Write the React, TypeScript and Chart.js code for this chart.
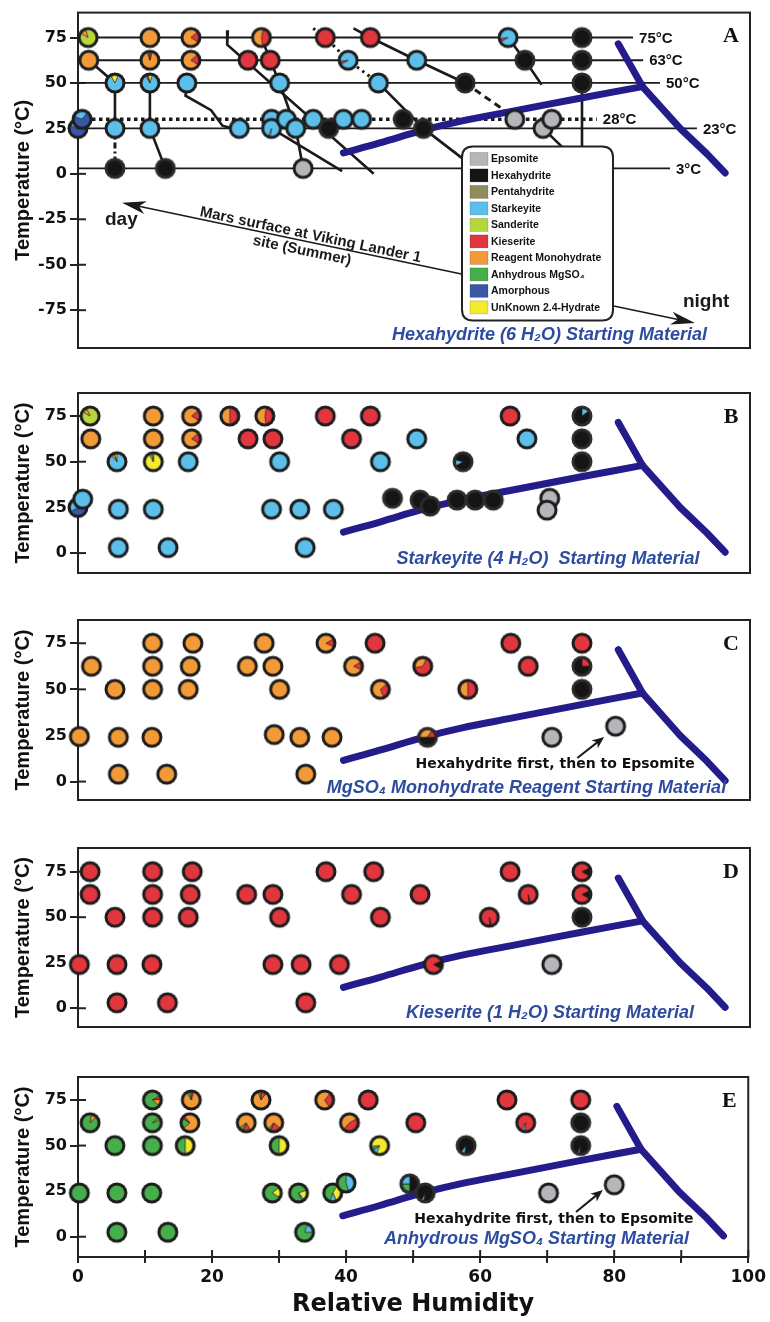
import React, { useEffect, useRef } from "react";
import { Chart, registerables } from "chart.js";
Chart.register(...registerables);

Chart.defaults.font.family = "'DejaVu Sans', sans-serif";
Chart.defaults.color = "#111";

// ---------------- phases ----------------
const phaseKeys = ["E", "H", "P", "S", "Sa", "K", "R", "A", "Am", "U"];
const phaseNames = ["Epsomite", "Hexahydrite", "Pentahydrite", "Starkeyite", "Sanderite", "Kieserite", "Reagent Monohydrate", "Anhydrous MgSO₄", "Amorphous", "UnKnown 2.4-Hydrate"];
const phaseColors = ["#b4b6ba", "#151515", "#8f8d5b", "#5cbfe9", "#b7d53d", "#e2363f", "#f39a38", "#47ae4c", "#3a57a6", "#f3eb2b"];

// ---------------- panel A : Hexahydrite ----------------
const rhA = [1.5, 1.6, 5.5, 0.0, 0.6, 5.5, 5.5, 10.7, 10.7, 10.7, 10.7, 13.0, 16.8, 16.8, 16.2, 24.0, 27.3, 25.3, 28.6, 30.0, 28.8, 28.8, 31.0, 32.4, 33.5, 35.0, 37.3, 39.5, 42.2, 36.8, 43.5, 40.2, 44.7, 50.4, 57.6, 48.4, 51.4, 65.0, 69.2, 70.5, 64.0, 66.5, 75, 75, 75];
const tA = [75, 62.5, 50, 25, 30, 25, 3, 75, 62.5, 50, 25, 3, 75, 62.5, 50, 25, 75, 62.5, 62.5, 50, 30, 25, 30, 25, 3, 30, 25, 30, 30, 75, 75, 62.5, 50, 62.5, 50, 30, 25, 30, 25, 30, 75, 62.5, 75, 62.5, 50];
const phA = ["Sa,R:0.12@-150", "R", "S,U:0.15@-120", "Am,S:0.3@200", "Am,S:0.3@200", "S", "H", "R", "R,A:0.05,K:0.05@-110", "S,K:0.05,U:0.08@-120", "S", "H", "R,K:0.2@-40", "R,K:0.2@-40", "S", "S", "R,K:0.45@-80", "K", "K", "S", "S", "S,E:0.03@100", "S", "S", "E", "S", "H", "S", "S", "K", "K", "S,K:0.06@150", "S", "S", "H", "H", "H", "E", "E", "E", "S,K:0.06@150", "H", "H", "H", "H"];

// transformation paths in panel A
const pathA1 = [[1.6, 62.5], [5.5, 50], [5.5, 25]];
const pathA1b = [[5.5, 25], [5.5, 3]];
const pathA2 = [[10.7, 50], [10.7, 25], [13, 3]];
const pathA3 = [[16.2, 50], [16, 43], [19.8, 35], [21.5, 26.5], [23, 25]];
const pathA4 = [[22.3, 79], [22.2, 71], [44, 0]];
const pathA5 = [[27.3, 75], [28.6, 62.5], [30, 50], [32.4, 25], [33.5, 3]];
const pathA6 = [[28.8, 25], [39.3, 1.5]];
const pathA7 = [[35, 80], [36.8, 75], [40.2, 62.5], [44.7, 50]];
const pathA8 = [[41, 80], [43.5, 75], [50.4, 62.5], [57.6, 50]];
const pathA8b = [[57.6, 50], [65, 31]];
const pathA9 = [[44.7, 50], [51.4, 25], [57.2, 8.5]];
const pathA10 = [[63.5, 80], [64, 75], [66.5, 62.5], [69, 49]];
const pathA11 = [[69.2, 25], [72, 15]];
const pathA12 = [[75, 50], [75, 15]];

// isotherms in panel A
const isoT = [75, 62.5, 50, 30, 25, 3];
const isoEnd = [82.6, 84.1, 86.6, 77.2, 92.1, 88.1];
const isoLabels = ["75°C", "63°C", "50°C", "28°C", "23°C", "3°C"];

// Mars surface arrow (RH, T)
const dayTip = [6.55, -15.9];
const nightTip = [91.8, -82.1];

// ---------------- panel B : Starkeyite ----------------
const rhB = [0, 0.7, 1.8, 1.9, 5.8, 6, 6, 11.2, 11.2, 11.2, 11.2, 13.4, 16.9, 16.9, 16.4, 22.6, 27.8, 25.3, 29, 30, 28.8, 33, 33.8, 38, 36.8, 43.5, 40.7, 45, 50.4, 64.3, 66.8, 57.3, 75, 75, 75, 46.8, 50.9, 52.4, 56.4, 59.1, 61.8, 70.2, 69.8];
const tB = [25, 29.5, 75, 62.5, 50, 24, 3, 75, 62.5, 50, 24, 3, 75, 62.5, 50, 75, 75, 62.5, 62.5, 50, 24, 24, 3, 24, 75, 75, 62.5, 50, 62.5, 75, 62.5, 50, 75, 62.5, 50, 30, 29, 25.7, 29, 29, 29, 30, 23.5];
const phB = ["Am,S:0.25@150", "S", "Sa,R:0.1@-150", "R", "S,R:0.06,U:0.05@-130", "S", "S", "R", "R", "U,S:0.06,R:0.04@-120", "S", "S", "R,K:0.2@-40", "R,K:0.2@-40", "S", "R,K:0.5@-90", "R,K:0.45@-80", "K", "K", "S", "S", "S", "S", "S", "K", "K", "K", "S", "S", "K", "S", "H,S:0.12@150", "H,S:0.15@-90", "H", "H", "H", "H", "H", "H", "H", "H", "E", "E"];

// ---------------- panel C : MgSO4 monohydrate reagent ----------------
const rhC = [0.2, 2, 5.5, 6, 6, 11.1, 11.1, 11.1, 11, 13.2, 17.1, 16.7, 16.4, 27.7, 25.2, 29, 30, 29.2, 33, 37.8, 33.9, 36.9, 41, 44.2, 45, 51.3, 58, 52, 64.4, 67, 75, 75, 75, 70.5, 80];
const tC = [24.4, 62.5, 50, 24, 4, 75, 62.5, 50, 24, 4, 75, 62.5, 50, 75, 62.5, 62.5, 50, 25.5, 24, 24, 4, 75, 62.5, 75, 50, 62.5, 50, 24, 75, 62.5, 75, 62.5, 50, 24, 30];
const phC = ["R", "R", "R", "R", "R", "R", "R", "R", "R", "R", "R", "R", "R", "R", "R", "R", "R", "R", "R", "R", "R", "R,K:0.15@-30", "R,K:0.15@-30", "K", "R,K:0.3@-40", "K,R:0.35@170", "K,R:0.5@90", "H,R:0.35,K:0.15@180", "K", "K", "K", "H,K:0.25@-90", "H", "E", "E"];

// ---------------- panel D : Kieserite ----------------
const rhD = [0.2, 1.8, 1.8, 5.5, 5.8, 5.8, 11.1, 11.1, 11.1, 11, 13.3, 17, 16.7, 16.4, 25.1, 29, 30, 29, 33.2, 33.9, 38.9, 36.9, 44, 40.7, 45, 50.9, 64.3, 67, 61.2, 75, 75, 75, 52.9, 70.5];
const tD = [24, 75, 62.5, 50, 24, 3, 75, 62.5, 50, 24, 3, 75, 62.5, 50, 62.5, 62.5, 50, 24, 24, 3, 24, 75, 75, 62.5, 50, 62.5, 75, 62.5, 50, 75, 62.5, 50, 24, 24];
const phD = ["K", "K", "K", "K", "K", "K", "K", "K", "K", "K", "K", "K", "K", "K", "K", "K", "K", "K", "K", "K", "K", "K", "K", "K", "K", "K", "K", "K,H:0.03@75", "K,H:0.03@75", "K,H:0.15@-25", "K,H:0.15@-25", "H", "K,H:0.15@-25", "E"];

// ---------------- panel E : Anhydrous MgSO4 ----------------
const rhE = [0.2, 1.8, 5.5, 5.8, 5.8, 11.1, 11.1, 11.1, 11, 13.4, 16.9, 16.7, 16, 27.3, 25.1, 29.2, 30, 29, 32.9, 38, 40, 33.8, 36.8, 43.3, 40.5, 45, 50.4, 64, 66.8, 75, 75, 57.9, 75, 49.5, 51.8, 70.2, 80];
const tE = [24, 62.5, 50, 24, 2.5, 75, 62.5, 50, 24, 2.5, 75, 62.5, 50, 75, 62.5, 62.5, 50, 24, 24, 24, 29.5, 2.5, 75, 75, 62.5, 50, 62.5, 75, 62.5, 75, 62.5, 50, 50, 29, 24, 24, 28.5];
const phE = ["A", "A,R:0.1@-80", "A", "A", "A", "A,K:0.07,R:0.13@-30", "A,R:0.05@-40", "A", "A", "A", "R,A:0.08,K:0.05@-120", "R,A:0.2,K:0.05@140", "A,U:0.5@-90", "R,A:0.06,K:0.1@-110", "R,K:0.15,A:0.08@60", "R,K:0.2,A:0.05@40", "A,U:0.5@-90", "A,U:0.2@-40", "A,U:0.2,S:0.04@-20", "A,U:0.35,S:0.12@-60", "A,S:0.45@-90", "A,S:0.2@-70", "R,K:0.3@-50", "K", "R,K:0.45@-30", "U,S:0.1,A:0.08@110", "K", "K", "K,S:0.06@100", "K", "H", "H,S:0.08@100", "H,S:0.04@100", "H,A:0.25,S:0.25@90", "H,S:0.05@100", "E", "E"];

// ---------------- deliquescence / boundary curve ----------------
const curveRH = [39.5, 44.9, 51.4, 57, 64.7, 74.7, 84];
const curveT = [11.5, 17, 24, 29, 34.5, 41.6, 48];
const branchRH = [80.4, 84, 89.6, 93.6, 96.3];
const branchT = [71.5, 48, 25, 11, 0.5];

// annotation arrows in C and E (RH, T)
const noteTipC = [78.3, 24.2];
const noteTailC = [74.3, 12.8];
const noteTipE = [78.3, 25.6];
const noteTailE = [74.3, 13.6];

const NAVY = "#251c8c";
const INK = "#1a1a1a";
const SUB = "#2e4c9f";

type Panel = {
  id: string; top: number; height: number; padTop: number; padBottom: number;
  yMin: number; yMax: number; rh: number[]; t: number[]; ph: string[];
  subtitle: string; subX: number; subDy: number; showX: boolean;
  note?: { tip: number[]; tail: number[]; textT: number };
};

const PANELS: Panel[] = [
  { id: "A", top: 0, height: 370, padTop: 11, padBottom: 22, yMin: -95.8, yMax: 88.7, rh: rhA, t: tA, ph: phA, subtitle: "Hexahydrite (6 H₂O) Starting Material", subX: 471.5, subDy: 13, showX: false },
  { id: "B", top: 370, height: 227, padTop: 23, padBottom: 24, yMin: -10.9, yMax: 87.6, rh: rhB, t: tB, ph: phB, subtitle: "Starkeyite (4 H₂O)  Starting Material", subX: 470, subDy: 14, showX: false },
  { id: "C", top: 597, height: 227, padTop: 23, padBottom: 24, yMin: -10, yMax: 87.6, rh: rhC, t: tC, ph: phC, subtitle: "MgSO₄ Monohydrate Reagent Starting Material", subX: 448.5, subDy: 12, showX: false, note: { tip: noteTipC, tail: noteTailC, textT: 9.1 } },
  { id: "D", top: 824, height: 228, padTop: 24, padBottom: 25, yMin: -10.3, yMax: 88, rh: rhD, t: tD, ph: phD, subtitle: "Kieserite (1 H₂O) Starting Material", subX: 472, subDy: 14, showX: false },
  { id: "E", top: 1052, height: 270, padTop: 25, padBottom: 0, yMin: -11.1, yMax: 87.6, rh: rhE, t: tE, ph: phE, subtitle: "Anhydrous MgSO₄ Starting Material", subX: 458.5, subDy: 18, showX: true, note: { tip: noteTipE, tail: noteTailE, textT: 9.7 } },
];

function colorOf(k: string) {
  const i = phaseKeys.indexOf(k);
  return i >= 0 ? phaseColors[i] : "#999";
}

function makePie(code: string): HTMLCanvasElement {
  const [body, ang] = code.split("@");
  const parts = body.split(",");
  const R = 10.5;
  const S = 24;
  const cv = document.createElement("canvas");
  cv.width = S;
  cv.height = S;
  const c = cv.getContext("2d")!;
  const m = S / 2;
  const base = parts[0];
  c.beginPath();
  c.arc(m, m, R, 0, Math.PI * 2);
  c.fillStyle = base === "H" ? "#2c2c2c" : "#1d1d1d";
  c.fill();
  const r = R - 3;
  c.beginPath();
  c.arc(m, m, r, 0, Math.PI * 2);
  c.fillStyle = colorOf(base);
  c.fill();
  let a = ((ang !== undefined ? parseFloat(ang) : -90) * Math.PI) / 180;
  for (const p of parts.slice(1)) {
    const [key, f] = p.split(":");
    const da = parseFloat(f) * Math.PI * 2;
    c.beginPath();
    c.moveTo(m, m);
    c.arc(m, m, r, a, a + da);
    c.closePath();
    c.fillStyle = colorOf(key);
    c.fill();
    c.lineWidth = 0.8;
    c.strokeStyle = "rgba(25,25,25,0.85)";
    c.stroke();
    a += da;
  }
  return cv;
}

const toXY = (xs: number[], ys: number[]) => xs.map((x, i) => ({ x, y: ys[i] }));
const pairs = (p: number[][]) => p.map(([x, y]) => ({ x, y }));

function seg(ctx: CanvasRenderingContext2D, x1: number, y1: number, x2: number, y2: number) {
  ctx.beginPath();
  ctx.moveTo(x1, y1);
  ctx.lineTo(x2, y2);
  ctx.stroke();
}

function arrowHead(ctx: CanvasRenderingContext2D, x: number, y: number, ang: number, L: number, W: number) {
  const dx = Math.cos(ang), dy = Math.sin(ang);
  const px = -dy, py = dx;
  ctx.beginPath();
  ctx.moveTo(x, y);
  ctx.lineTo(x - L * dx + W * px, y - L * dy + W * py);
  ctx.lineTo(x - 0.72 * L * dx, y - 0.72 * L * dy);
  ctx.lineTo(x - L * dx - W * px, y - L * dy - W * py);
  ctx.closePath();
  ctx.fill();
}

function roundRect(ctx: CanvasRenderingContext2D, x: number, y: number, w: number, h: number, r: number) {
  ctx.beginPath();
  ctx.moveTo(x + r, y);
  ctx.lineTo(x + w - r, y);
  ctx.quadraticCurveTo(x + w, y, x + w, y + r);
  ctx.lineTo(x + w, y + h - r);
  ctx.quadraticCurveTo(x + w, y + h, x + w - r, y + h);
  ctx.lineTo(x + r, y + h);
  ctx.quadraticCurveTo(x, y + h, x, y + h - r);
  ctx.lineTo(x, y + r);
  ctx.quadraticCurveTo(x, y, x + r, y);
  ctx.closePath();
}

function decorPlugin(p: Panel) {
  return {
    id: "decor" + p.id,
    beforeDatasetsDraw(chart: any) {
      const { ctx, chartArea: ca, scales } = chart;
      ctx.save();
      ctx.strokeStyle = "#222";
      ctx.lineWidth = 2;
      ctx.strokeRect(ca.left, ca.top, ca.right - ca.left, ca.bottom - ca.top);
      for (const tk of scales.y.ticks) {
        const yy = scales.y.getPixelForValue(tk.value);
        seg(ctx, ca.left, yy, ca.left + 8, yy);
      }
      if (p.showX) {
        for (const tk of scales.x.ticks) {
          const xx = scales.x.getPixelForValue(tk.value);
          seg(ctx, xx, ca.bottom, xx, ca.bottom - 7);
        }
      }
      ctx.restore();
    },
    afterDatasetsDraw(chart: any) {
      const { ctx, chartArea: ca, scales } = chart;
      const X = (v: number) => scales.x.getPixelForValue(v);
      const Y = (v: number) => scales.y.getPixelForValue(v);
      ctx.save();
      if (p.id === "A") {
        // isotherm labels
        ctx.font = "bold 15px 'Liberation Sans', Arial, sans-serif";
        ctx.fillStyle = "#111";
        ctx.textAlign = "left";
        ctx.textBaseline = "middle";
        isoT.forEach((tv, i) => ctx.fillText(isoLabels[i], X(isoEnd[i]) + 6, Y(tv) + 1));
        // Mars surface arrow
        const d = { x: X(dayTip[0]), y: Y(dayTip[1]) };
        const n = { x: X(nightTip[0]), y: Y(nightTip[1]) };
        const ang = Math.atan2(n.y - d.y, n.x - d.x);
        ctx.strokeStyle = INK;
        ctx.fillStyle = INK;
        ctx.lineWidth = 1.6;
        seg(ctx, d.x + 16 * Math.cos(ang), d.y + 16 * Math.sin(ang), n.x - 16 * Math.cos(ang), n.y - 16 * Math.sin(ang));
        arrowHead(ctx, n.x, n.y, ang, 24, 6.5);
        arrowHead(ctx, d.x, d.y, ang + Math.PI, 24, 6.5);
        const ax = d.x + 0.323 * (n.x - d.x);
        const ay = d.y + 0.323 * (n.y - d.y);
        ctx.save();
        ctx.translate(ax, ay);
        ctx.rotate(ang);
        ctx.font = "bold 15px 'Liberation Sans', Arial, sans-serif";
        ctx.textAlign = "center";
        ctx.textBaseline = "alphabetic";
        ctx.fillText("Mars surface at Viking Lander 1", 2, -3);
        ctx.fillText("site (Summer)", -3, 14);
        ctx.restore();
        ctx.font = "bold 19px 'Liberation Sans', Arial, sans-serif";
        ctx.textAlign = "left";
        ctx.textBaseline = "middle";
        ctx.fillText("day", d.x - 17, d.y + 17);
        ctx.fillText("night", n.x - 12, n.y - 21);
        // legend
        const L = ca.left + 384, T = ca.top + 134, W = 151, H = 174;
        roundRect(ctx, L, T, W, H, 11);
        ctx.fillStyle = "#fff";
        ctx.fill();
        ctx.lineWidth = 2;
        ctx.strokeStyle = "#222";
        ctx.stroke();
        ctx.font = "bold 10.5px 'Liberation Sans', Arial, sans-serif";
        phaseNames.forEach((nm, i) => {
          const cy = T + 12.3 + i * 16.5;
          ctx.fillStyle = phaseColors[i];
          ctx.fillRect(L + 8, cy - 6.5, 18, 13);
          ctx.lineWidth = 0.8;
          ctx.strokeStyle = "rgba(0,0,0,0.2)";
          ctx.strokeRect(L + 8, cy - 6.5, 18, 13);
          ctx.fillStyle = "#111";
          ctx.fillText(nm, L + 29, cy + 0.5);
        });
      }
      if (p.note) {
        const tip = { x: X(p.note.tip[0]), y: Y(p.note.tip[1]) };
        const tail = { x: X(p.note.tail[0]), y: Y(p.note.tail[1]) };
        const ang = Math.atan2(tip.y - tail.y, tip.x - tail.x);
        ctx.strokeStyle = INK;
        ctx.fillStyle = INK;
        ctx.lineWidth = 2;
        seg(ctx, tail.x, tail.y, tip.x - 8 * Math.cos(ang), tip.y - 8 * Math.sin(ang));
        arrowHead(ctx, tip.x, tip.y, ang, 12, 5);
        ctx.font = "bold 14px 'DejaVu Sans', sans-serif";
        ctx.textAlign = "center";
        ctx.textBaseline = "middle";
        ctx.fillStyle = "#111";
        ctx.fillText("Hexahydrite first, then to Epsomite", X(71), Y(p.note.textT));
      }
      // subtitle
      ctx.font = "italic bold 18px 'Liberation Sans', Arial, sans-serif";
      ctx.fillStyle = SUB;
      ctx.textAlign = "center";
      ctx.textBaseline = "middle";
      ctx.fillText(p.subtitle, ca.left + p.subX, ca.bottom - p.subDy);
      // panel letter
      ctx.font = "bold 22px 'Liberation Serif', 'Times New Roman', serif";
      ctx.fillStyle = "#111";
      ctx.fillText(p.id, ca.right - 19, ca.top + 24);
      ctx.restore();
    },
  };
}

function pathDs(data: number[][], extra: any = {}) {
  return {
    type: "line",
    data: pairs(data),
    borderColor: INK,
    borderWidth: 2.6,
    pointRadius: 0,
    tension: 0,
    clip: false,
    order: 2,
    ...extra,
  };
}

function buildConfig(p: Panel): any {
  const datasets: any[] = [
    {
      type: "scatter",
      label: "phases",
      data: toXY(p.rh, p.t),
      pointStyle: p.ph.map((c) => makePie(c)),
      pointRadius: 9,
      pointHoverRadius: 9,
      clip: false,
      order: 0,
    },
    {
      type: "line",
      label: "boundary",
      data: toXY(curveRH, curveT),
      borderColor: NAVY,
      borderWidth: 7,
      pointRadius: 0,
      tension: 0.4,
      borderCapStyle: "round",
      borderJoinStyle: "round",
      clip: false,
      order: 1,
    },
    {
      type: "line",
      label: "boundary2",
      data: toXY(branchRH, branchT),
      borderColor: NAVY,
      borderWidth: 7,
      pointRadius: 0,
      tension: 0,
      borderCapStyle: "round",
      borderJoinStyle: "round",
      clip: false,
      order: 1,
    },
  ];
  if (p.id === "A") {
    datasets.push(
      pathDs(pathA1),
      pathDs(pathA1b, { borderDash: [6, 3, 2, 3], borderWidth: 3 }),
      pathDs(pathA2),
      pathDs(pathA3),
      pathDs(pathA4),
      pathDs(pathA5),
      pathDs(pathA6),
      pathDs(pathA7, { borderDash: [2.5, 4], borderWidth: 3 }),
      pathDs(pathA8),
      pathDs(pathA8b, { borderDash: [7, 5], borderWidth: 3 }),
      pathDs(pathA9),
      pathDs(pathA10),
      pathDs(pathA11),
      pathDs(pathA12)
    );
    isoT.forEach((tv, i) => {
      const dotted = i === 3;
      datasets.push({
        type: "line",
        label: isoLabels[i],
        data: [{ x: 0, y: tv }, { x: isoEnd[i], y: tv }],
        borderColor: INK,
        borderWidth: dotted ? 3.5 : 1.8,
        borderDash: dotted ? [3.5, 3.5] : [],
        pointRadius: 0,
        clip: false,
        order: 3,
      });
    });
  }
  return {
    type: "scatter",
    data: { datasets },
    options: {
      animation: false,
      responsive: false,
      events: [],
      layout: { padding: { left: 0, right: 20, top: p.padTop, bottom: p.padBottom } },
      plugins: { legend: { display: false }, tooltip: { enabled: false } },
      scales: {
        x: {
          type: "linear",
          min: 0,
          max: 100,
          display: p.showX,
          afterFit: (s: any) => { s.height = p.showX ? 65 : 0; },
          ticks: {
            stepSize: 10,
            autoSkip: false,
            maxRotation: 0,
            padding: 4,
            color: "#111",
            font: { family: "'DejaVu Sans', sans-serif", size: 17, weight: "bold" },
            callback: (v: any) => (Number(v) % 20 === 0 ? String(v) : ""),
          },
          grid: { drawOnChartArea: false, tickLength: 6, color: "#222", lineWidth: 2 },
          border: { display: false },
          title: {
            display: true,
            text: "Relative Humidity",
            color: "#111",
            font: { family: "'DejaVu Sans', sans-serif", size: 24, weight: "bold" },
            padding: { top: 0, bottom: 3 },
          },
        },
        y: {
          type: "linear",
          min: p.yMin,
          max: p.yMax,
          afterFit: (s: any) => { s.width = 78; },
          ticks: {
            stepSize: 25,
            includeBounds: false,
            padding: 3,
            color: "#111",
            font: { family: "'DejaVu Sans', sans-serif", size: 16, weight: "bold" },
          },
          grid: { drawOnChartArea: false, tickLength: 8, color: "#222", lineWidth: 2 },
          border: { display: false },
          title: {
            display: true,
            text: "Temperature (°C)",
            color: "#111",
            font: { family: "'Liberation Sans', Arial, sans-serif", size: 20, weight: "bold" },
            padding: { top: 11, bottom: 0 },
          },
        },
      },
    },
    plugins: [decorPlugin(p)],
  };
}

export default function App() {
  const refs = useRef<(HTMLCanvasElement | null)[]>([]);
  useEffect(() => {
    const charts = PANELS.map((p, i) => new Chart(refs.current[i] as HTMLCanvasElement, buildConfig(p)));
    return () => charts.forEach((c) => c.destroy());
  }, []);
  return (
    <div style={{ position: "absolute", left: 0, top: 0, width: 770, height: 1322, background: "#fff" }}>
      {PANELS.map((p, i) => (
        <canvas
          key={p.id}
          ref={(el) => { refs.current[i] = el; }}
          width={770}
          height={p.height}
          style={{ position: "absolute", left: 0, top: p.top, width: 770, height: p.height }}
        />
      ))}
    </div>
  );
}
